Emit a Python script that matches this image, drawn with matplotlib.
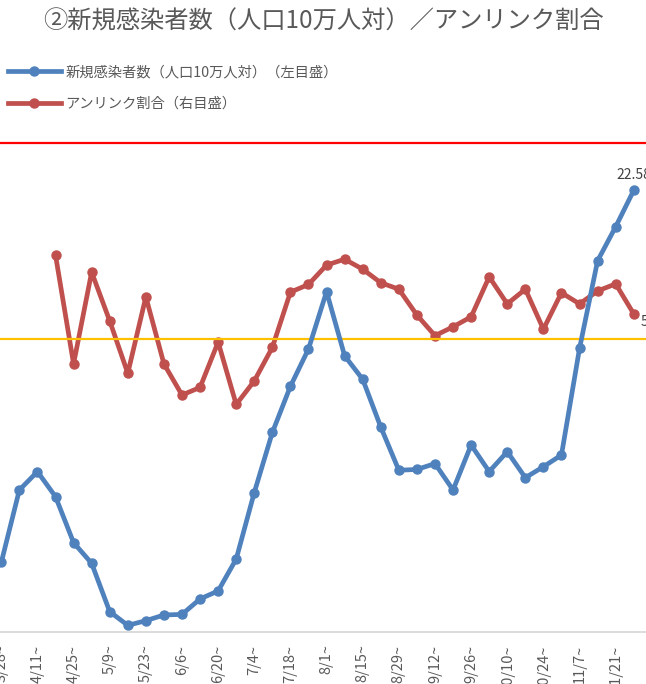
import numpy as np
import matplotlib
matplotlib.use("Agg")
import matplotlib.pyplot as plt
from matplotlib.lines import Line2D

plt.rcParams['font.family'] = ['Noto Sans CJK JP', 'DejaVu Sans']

weeks = ["3/28", "4/4", "4/11", "4/18", "4/25", "5/2", "5/9", "5/16", "5/23", "5/30",
         "6/6", "6/13", "6/20", "6/27", "7/4", "7/11", "7/18", "7/25", "8/1", "8/8",
         "8/15", "8/22", "8/29", "9/5", "9/12", "9/19", "9/26", "10/3", "10/10", "10/17",
         "10/24", "10/31", "11/7", "11/14", "11/21", "11/28"]

new_cases = [3.56, 7.26, 8.20, 6.92, 4.57, 3.51, 1.04, 0.34, 0.58, 0.87,
             0.90, 1.69, 2.10, 3.73, 7.13, 10.20, 12.56, 14.47, 17.40, 14.12,
             12.92, 10.48, 8.27, 8.31, 8.61, 7.26, 9.56, 8.20, 9.22, 7.89,
             8.45, 9.05, 14.50, 18.98, 20.72, 22.58]

unlinked = [np.nan, np.nan, np.nan, 64.1, 45.6, 61.2, 52.9, 44.0, 57.0, 45.6,
            40.3, 41.6, 49.3, 38.7, 42.7, 48.4, 57.8, 59.1, 62.4, 63.4,
            61.7, 59.4, 58.3, 53.9, 50.4, 51.9, 53.6, 60.4, 55.8, 58.3,
            51.5, 57.7, 55.8, 58.0, 59.2, 54.1]

threshold_stage4 = 25
threshold_stage3 = 15

title = "②新規感染者数（人口10万人対）／アンリンク割合"
label_cases = "新規感染者数（人口10万人対）（左目盛）"
label_unlinked = "アンリンク割合（右目盛）"

W, H = 646, 684
fig = plt.figure(figsize=(W / 100, H / 100), dpi=100)

x = np.arange(len(weeks))
ax = fig.add_axes([0, 52 / H, 1, (632 - 143) / H])
ax2 = ax.twinx()

blue = '#4F81BD'
red = '#C0504D'
txt = '#595959'

ax.axhline(threshold_stage4, color='#FF0000', lw=1.6, zorder=1, clip_on=False)
ax.axhline(threshold_stage3, color='#FFC000', lw=1.6, zorder=1)

ax.plot(x, new_cases, color=blue, lw=3.4, marker='o', ms=6.5, zorder=3)
ax2.plot(x, unlinked, color=red, lw=3.4, marker='o', ms=6.5, zorder=3)

ax.set_zorder(ax2.get_zorder() + 1)
ax.patch.set_visible(False)

ax.set_xlim(-1.3 / 18.07, (646 - 1.3) / 18.07)
ax.set_ylim(0, 25)
ax2.set_ylim(0, 50 * (632 - 143) / (632 - 338))

for a in (ax, ax2):
    for s in a.spines.values():
        s.set_visible(False)
    a.set_yticks([])
ax.spines['bottom'].set_visible(True)
ax.spines['bottom'].set_color('#D9D9D9')
ax.spines['bottom'].set_linewidth(1.3)

ax.set_xticks(x[::2])
ax.set_xticklabels([w + "~" for w in weeks[::2]], rotation=90, fontsize=10.5, color=txt)
ax.tick_params(axis='x', length=0, pad=9)

ax.annotate(f"{new_cases[-1]:.2f}", (x[-1], new_cases[-1]), xytext=(0, 6),
            textcoords='offset points', ha='center', va='bottom', fontsize=10,
            color='#404040', annotation_clip=False)
ax2.annotate(f"{unlinked[-1]:.1f}%", (x[-1], unlinked[-1]), xytext=(5, -6),
             textcoords='offset points', ha='left', va='center', fontsize=10,
             color='#404040', annotation_clip=False)

fig.text(0.5, 1 - 22 / H, title, ha='center', va='center', fontsize=17.5, color=txt)

handles = [Line2D([], [], color=blue, lw=3.4, marker='o', ms=6.5),
           Line2D([], [], color=red, lw=3.4, marker='o', ms=6.5)]
leg = fig.legend(handles, [label_cases, label_unlinked], loc='upper left',
                 bbox_to_anchor=(8 / W, 1 - 65 / H), frameon=False, handlelength=3.7,
                 handletextpad=0.3, labelspacing=1.25, borderpad=0, borderaxespad=0,
                 fontsize=10.3)
for t in leg.get_texts():
    t.set_color(txt)

fig.savefig("out.png", dpi=100)
